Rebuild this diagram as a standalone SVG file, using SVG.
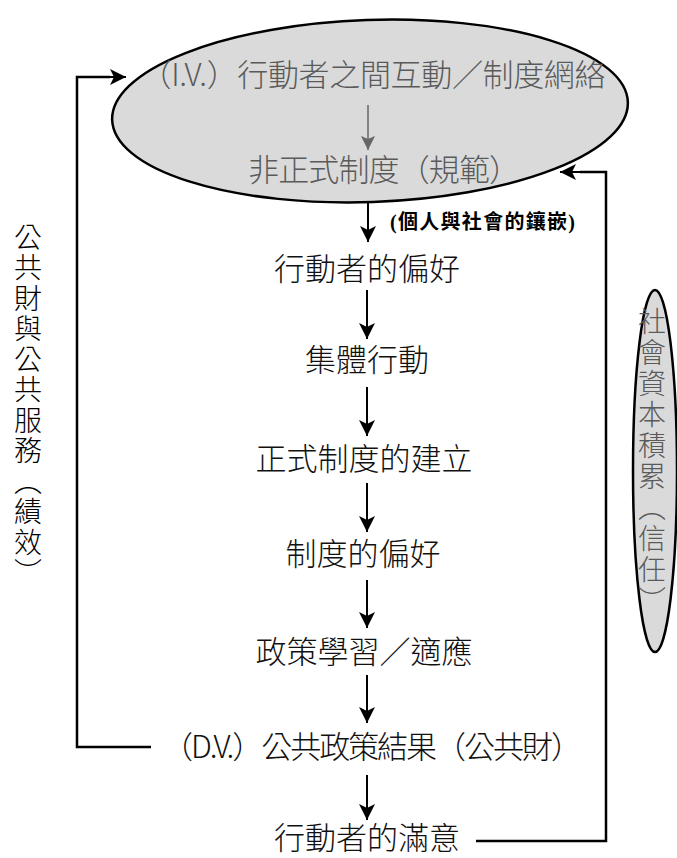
<svg xmlns="http://www.w3.org/2000/svg" width="677" height="858" viewBox="0 0 677 858">
<style>
.bg{fill:#ffffff}
.ell{fill:#dadada;stroke:#000;stroke-width:2.5}
.t{font-family:"Noto Sans CJK TC","Noto Sans CJK SC",sans-serif;font-weight:300;font-size:31px;fill:#111;text-anchor:middle}
.g{fill:#5a5a5a}
.lbl{font-family:"Liberation Serif","Noto Sans CJK TC",serif;font-weight:bold;font-size:20px;fill:#000}
.v{font-family:"Noto Sans CJK TC","Noto Sans CJK SC",sans-serif;font-weight:300;font-size:28px;writing-mode:vertical-rl;text-orientation:upright}
.ln{fill:none;stroke:#000;stroke-width:2.5}
.ar{fill:none;stroke:#000;stroke-width:2;marker-end:url(#ah)}
.arg{fill:none;stroke:#666;stroke-width:1.5;marker-end:url(#ahg)}
</style>
<defs>
<marker id="ah" markerUnits="userSpaceOnUse" markerWidth="18" markerHeight="18" viewBox="0 0 18 18" refX="16" refY="9" orient="auto">
<path d="M0,1 L16,9 L0,17 L4,9 Z" fill="#000"/>
</marker>
<marker id="ahg" markerUnits="userSpaceOnUse" markerWidth="16" markerHeight="16" viewBox="0 0 16 16" refX="14" refY="8" orient="auto">
<path d="M0,1 L14,8 L0,15 L3,8 Z" fill="#666"/>
</marker>
</defs>
<rect class="bg" x="0" y="0" width="677" height="858"/>

<g id="node-iv">
<ellipse class="ell" cx="370" cy="111" rx="258" ry="91" transform="rotate(-2 370 111)"/>
<text class="t g" x="373" y="86" font-size="29" textLength="465" lengthAdjust="spacing">（I.V.）行動者之間互動／制度網絡</text>
<line class="arg" x1="368" y1="105" x2="368" y2="150"/>
<text class="t g" x="384" y="181" font-size="30" textLength="272" lengthAdjust="spacing">非正式制度（規範）</text>
</g>

<g id="node-pref"><text class="t" x="367" y="280">行動者的偏好</text></g>
<g id="node-collective"><text class="t" x="367" y="371">集體行動</text></g>
<g id="node-formal"><text class="t" x="364" y="470">正式制度的建立</text></g>
<g id="node-instpref"><text class="t" x="363" y="565">制度的偏好</text></g>
<g id="node-learning"><text class="t" x="364" y="663">政策學習／適應</text></g>
<g id="node-dv"><text class="t" x="372" y="758" textLength="420" lengthAdjust="spacing">（D.V.）公共政策結果（公共財）</text></g>
<g id="node-satisfaction"><text class="t" x="367" y="849" font-size="30">行動者的滿意</text></g>

<g id="node-social-capital">
<ellipse class="ell" cx="655" cy="471" rx="22" ry="181"/>
<text class="v g" x="652" y="307" letter-spacing="3">社會資本積累（信任）</text>
</g>

<g id="node-public-goods">
<text class="v" x="28" y="223" fill="#000" letter-spacing="2.5">公共財與公共服務（績效）</text>
</g>

<g id="connectors">
<line class="ar" x1="368" y1="203" x2="368" y2="242"/>
<text class="lbl" x="390" y="229" textLength="185" lengthAdjust="spacing">(個人與社會的鑲嵌)</text>
<line class="ar" x1="367" y1="290" x2="367" y2="339"/>
<line class="ar" x1="367" y1="387" x2="367" y2="436"/>
<line class="ar" x1="367" y1="483" x2="367" y2="532"/>
<line class="ar" x1="367" y1="580" x2="367" y2="628"/>
<line class="ar" x1="367" y1="675" x2="367" y2="723"/>
<line class="ar" x1="367" y1="775" x2="367" y2="820"/>
<polyline class="ln" points="151,747 77,747 77,77 110,77"/>
<line class="ar" x1="105" y1="77" x2="126" y2="77"/>
<polyline class="ln" points="476,841 606,841 606,172 580,172"/>
<line class="ar" x1="585" y1="172" x2="560" y2="172"/>
</g>
</svg>
